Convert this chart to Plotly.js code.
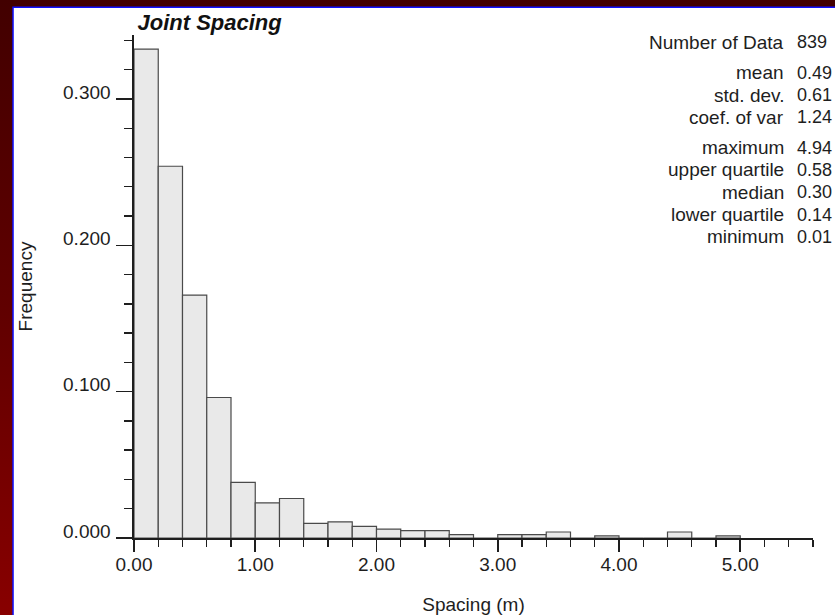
<!DOCTYPE html>
<html>
<head>
<meta charset="utf-8">
<script src="https://cdn.plot.ly/plotly-3.0.1.min.js"></script>
<style>
  html, body { margin: 0; padding: 0; }
  body { width: 835px; height: 615px; overflow: hidden;
         background: linear-gradient(to bottom, #420000 0%, #600000 50%, #880000 100%); }
  #chart { width: 835px; height: 615px; }
</style>
</head>
<body>
<div id="chart"></div>
<script>
// ---- data ----
const binStart = [0.0, 0.2, 0.4, 0.6, 0.8, 1.0, 1.2, 1.4, 1.6, 1.8, 2.0, 2.2, 2.4,
                  2.6, 2.8, 3.0, 3.2, 3.4, 3.6, 3.8, 4.0, 4.2, 4.4, 4.6, 4.8];
const frequency = [0.334, 0.254, 0.166, 0.096, 0.038, 0.024, 0.027, 0.010, 0.011, 0.008,
                   0.006, 0.005, 0.005, 0.0023, 0.0, 0.0023, 0.0023, 0.0041, 0.0, 0.0014,
                   0.0, 0.0, 0.0041, 0.0, 0.0014];
const binWidth = 0.2;
const statLabels = ['Number of Data', 'mean', 'std. dev.', 'coef. of var', 'maximum',
                    'upper quartile', 'median', 'lower quartile', 'minimum'];
const statValues = ['839', '0.49', '0.61', '1.24', '4.94', '0.58', '0.30', '0.14', '0.01'];
const chartTitle = 'Joint Spacing';
const xTitle = 'Spacing (m)';
const yTitle = 'Frequency';

// ---- layout geometry ----
const W = 835, H = 615;
const mL = 133.5, mR = 22.3, mT = 35.3, mB = 76.7;
const pw = W - mL - mR, ph = H - mT - mB;
const px2x = p => (p - mL) / pw;
const py2y = p => (H - mB - p) / ph;
const FONT = '"Liberation Sans", Arial, Helvetica, sans-serif';
const ink = '#1e1e1e';

const annotations = [];
statLabels.forEach((lab, i) => {
  const yc = 42.7 + i * 22.3 + (i >= 1 ? 8 : 0) + (i >= 4 ? 8 : 0);
  annotations.push({ xref: 'paper', yref: 'paper', x: px2x(786), y: py2y(yc),
    xanchor: 'right', yanchor: 'middle', text: lab, showarrow: false,
    font: { family: FONT, size: 19, color: ink } });
  annotations.push({ xref: 'paper', yref: 'paper', x: px2x(795), y: py2y(yc),
    xanchor: 'left', yanchor: 'middle', text: statValues[i], showarrow: false,
    font: { family: FONT, size: 18, color: ink } });
});

const trace = {
  type: 'bar', x: binStart, y: frequency, width: binWidth, offset: 0,
  marker: { color: '#e9e9e9', line: { color: '#4a4a4a', width: 1.2 } },
  hoverinfo: 'x+y'
};

const layout = {
  width: W, height: H,
  margin: { l: mL, r: mR, t: mT, b: mB, pad: 0 },
  paper_bgcolor: 'rgba(0,0,0,0)', plot_bgcolor: 'rgba(0,0,0,0)',
  showlegend: false, bargap: 0,
  font: { family: FONT, color: ink, size: 19 },
  title: { text: chartTitle, xref: 'paper', x: px2x(137), xanchor: 'left',
           yref: 'container', y: 1 - 22 / H, yanchor: 'middle',
           font: { family: FONT, size: 22, weight: 'bold', style: 'italic', color: '#111' } },
  xaxis: {
    range: [0, 5.6], dtick: 1, tick0: 0, tickformat: '.2f',
    showline: true, linecolor: ink, linewidth: 1.6, mirror: false,
    ticks: 'outside', ticklen: 12, tickwidth: 1.6, tickcolor: ink,
    minor: { dtick: 0.2, ticks: 'outside', ticklen: 7, tickwidth: 1.4, tickcolor: ink, showgrid: false },
    showgrid: false, zeroline: false, automargin: false,
    ticklabelstandoff: -3,
    tickfont: { family: FONT, size: 19, color: ink },
    title: { text: xTitle, standoff: 24, font: { family: FONT, size: 19, color: ink } }
  },
  yaxis: {
    range: [0, 0.3437], dtick: 0.1, tick0: 0, tickformat: '.3f',
    showline: true, linecolor: ink, linewidth: 1.6,
    ticks: 'outside', ticklen: 16, tickwidth: 1.6, tickcolor: ink,
    minor: { dtick: 0.02, ticks: 'outside', ticklen: 8, tickwidth: 1.4, tickcolor: ink, showgrid: false },
    showgrid: false, zeroline: false, automargin: false,
    ticklabelshift: -7, ticklabelstandoff: 2,
    tickfont: { family: FONT, size: 19, color: ink },
    title: { text: yTitle, standoff: 25, font: { family: FONT, size: 19, color: ink } }
  },
  shapes: [{
    type: 'rect', xref: 'paper', yref: 'paper', layer: 'below',
    x0: px2x(12.5), x1: px2x(W + 20), y0: py2y(H + 20), y1: py2y(7.5),
    fillcolor: '#ffffff', line: { color: '#1010ff', width: 1.5 }
  }],
  annotations: annotations
};

Plotly.newPlot('chart', [trace], layout, { staticPlot: true, displayModeBar: false });
</script>
</body>
</html>
